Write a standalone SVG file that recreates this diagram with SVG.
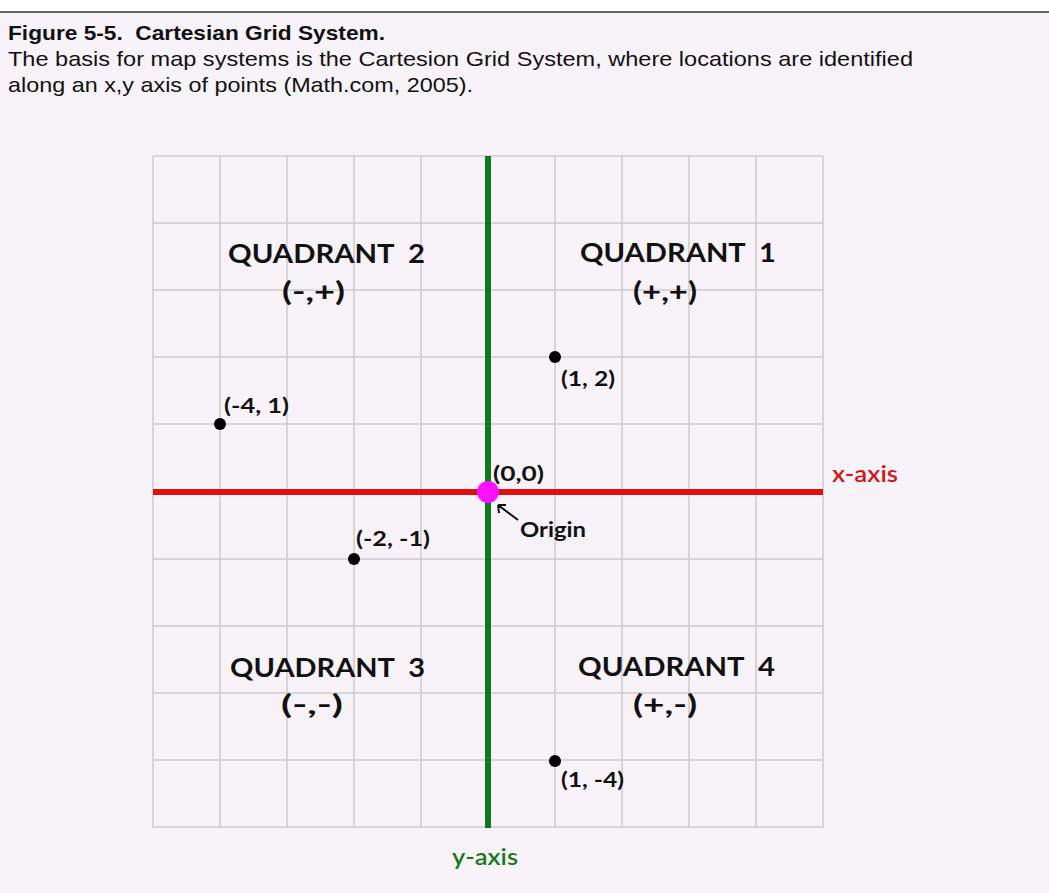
<svg xmlns="http://www.w3.org/2000/svg" width="1049" height="893" viewBox="0 0 1049 893">
<style>
.cap{font-family:"Liberation Sans",Arial,sans-serif;font-size:21px;fill:#111}
.capb{font-family:"Liberation Sans",Arial,sans-serif;font-size:21px;font-weight:bold;fill:#111}
.grid line{stroke:#cfcacf;stroke-width:1.5}
.quad{font-family:"Lato","Liberation Sans",sans-serif;font-size:27px;font-weight:bold;fill:#111}
.pt{font-family:"Lato","Liberation Sans",sans-serif;font-size:20px;font-weight:bold;fill:#111}
.axl{font-family:"Lato","Liberation Sans",sans-serif;font-size:22px;font-weight:600}
</style>
<rect x="0" y="0" width="1049" height="893" fill="#ffffff"/>
<rect x="0" y="12" width="1049" height="881" fill="#f8f3f9"/>
<line x1="0" y1="12" x2="1049" y2="12" stroke="#333" stroke-width="1.5"/>
<g id="caption">
<text class="capb" x="8" y="40" textLength="377" lengthAdjust="spacingAndGlyphs">Figure 5-5.&#160; Cartesian Grid System.</text>
<text class="cap" x="8" y="66" textLength="905" lengthAdjust="spacingAndGlyphs">The basis for map systems is the Cartesion Grid System, where locations are identified</text>
<text class="cap" x="8" y="92" textLength="465" lengthAdjust="spacingAndGlyphs">along an x,y axis of points (Math.com, 2005).</text>
</g>
<g id="grid" class="grid">
<line x1="153" y1="156" x2="153" y2="828"/>
<line x1="220" y1="156" x2="220" y2="828"/>
<line x1="287" y1="156" x2="287" y2="828"/>
<line x1="354" y1="156" x2="354" y2="828"/>
<line x1="421" y1="156" x2="421" y2="828"/>
<line x1="555" y1="156" x2="555" y2="828"/>
<line x1="622" y1="156" x2="622" y2="828"/>
<line x1="689" y1="156" x2="689" y2="828"/>
<line x1="756" y1="156" x2="756" y2="828"/>
<line x1="823" y1="156" x2="823" y2="828"/>
<line x1="153" y1="156" x2="823" y2="156"/>
<line x1="153" y1="223" x2="823" y2="223"/>
<line x1="153" y1="290" x2="823" y2="290"/>
<line x1="153" y1="357" x2="823" y2="357"/>
<line x1="153" y1="424" x2="823" y2="424"/>
<line x1="153" y1="559" x2="823" y2="559"/>
<line x1="153" y1="626" x2="823" y2="626"/>
<line x1="153" y1="693" x2="823" y2="693"/>
<line x1="153" y1="760" x2="823" y2="760"/>
<line x1="153" y1="827" x2="823" y2="827"/>
</g>
<g id="axes">
<line x1="153" y1="492" x2="823" y2="492" stroke="#e01010" stroke-width="6"/>
<line x1="488" y1="156" x2="488" y2="828" stroke="#0a7a1a" stroke-width="6"/>
</g>
<g id="labels">
<text class="quad" x="228" y="263" textLength="197" lengthAdjust="spacingAndGlyphs">QUADRANT&#160; 2</text>
<text class="quad" x="282" y="301" textLength="63" lengthAdjust="spacingAndGlyphs">(-,+)</text>
<text class="quad" x="580" y="262" textLength="196" lengthAdjust="spacingAndGlyphs">QUADRANT&#160; 1</text>
<text class="quad" x="633" y="301" textLength="64" lengthAdjust="spacingAndGlyphs">(+,+)</text>
<text class="quad" x="230" y="677" textLength="195" lengthAdjust="spacingAndGlyphs">QUADRANT&#160; 3</text>
<text class="quad" x="281" y="714" textLength="62" lengthAdjust="spacingAndGlyphs">(-,-)</text>
<text class="quad" x="578" y="676" textLength="197" lengthAdjust="spacingAndGlyphs">QUADRANT&#160; 4</text>
<text class="quad" x="633" y="714" textLength="64" lengthAdjust="spacingAndGlyphs">(+,-)</text>
</g>
<g id="points">
<circle cx="555" cy="357" r="6" fill="#000"/>
<text class="pt" x="561" y="386" textLength="54" lengthAdjust="spacingAndGlyphs">(1, 2)</text>
<circle cx="220" cy="424" r="6" fill="#000"/>
<text class="pt" x="224" y="413" textLength="65" lengthAdjust="spacingAndGlyphs">(-4, 1)</text>
<circle cx="354" cy="559" r="6" fill="#000"/>
<text class="pt" x="356" y="546" textLength="74" lengthAdjust="spacingAndGlyphs">(-2, -1)</text>
<circle cx="555" cy="761" r="6" fill="#000"/>
<text class="pt" x="561" y="787" textLength="63" lengthAdjust="spacingAndGlyphs">(1, -4)</text>
</g>
<g id="origin">
<circle cx="488" cy="492" r="11" fill="#ff10ff"/>
<text class="pt" x="493" y="481" textLength="51" lengthAdjust="spacingAndGlyphs">(0,0)</text>
<text class="pt" x="520" y="537" textLength="66" lengthAdjust="spacingAndGlyphs">Origin</text>
<path d="M518 520 L498 505 M498 505 L499 513 M498 505 L506 505" stroke="#111" stroke-width="2" fill="none"/>
</g>
<g id="axis-labels">
<text class="axl" x="832" y="482" fill="#d01818" textLength="66" lengthAdjust="spacingAndGlyphs">x-axis</text>
<text class="axl" x="452" y="865" fill="#1a7a1a" textLength="66" lengthAdjust="spacingAndGlyphs">y-axis</text>
</g>
</svg>
